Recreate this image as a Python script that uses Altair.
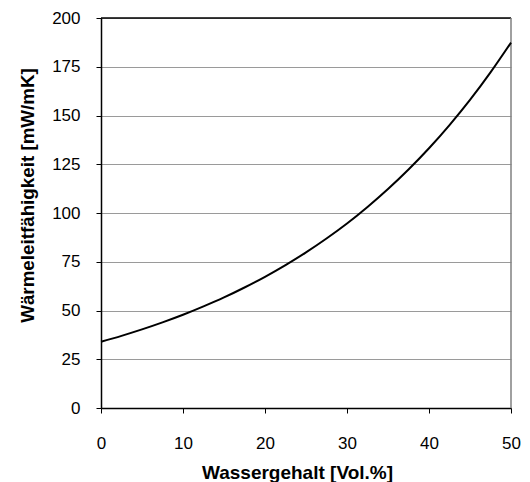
import altair as alt
import pandas as pd

# Values
wasser = [0, 2.5, 5, 7.5, 10, 12.5, 15, 17.5, 20, 22.5, 25, 27.5, 30, 32.5, 35, 37.5, 40, 42.5, 45, 47.5, 50]
waerme = [34, 37, 40.3, 43.9, 47.8, 52.1, 56.7, 61.8, 67.3, 73.3, 79.8, 86.9, 94.6, 103.1, 112.3, 122.3, 133.2, 145.1, 158, 172.1, 187.4]
x_ticks = [0, 10, 20, 30, 40, 50]
y_ticks = [0, 25, 50, 75, 100, 125, 150, 175, 200]
x_title = "Wassergehalt [Vol.%]"
y_title = "Wärmeleitfähigkeit [mW/mK]"

df = pd.DataFrame({"x": wasser, "y": waerme})
FONT = "Liberation Sans"

x_scale = alt.Scale(domain=[0, 50], nice=False, zero=False)
y_scale = alt.Scale(domain=[0, 200], nice=False)

x_axis = alt.Axis(
    title=x_title, values=x_ticks, grid=False,
    domainColor="black", domainWidth=1.5, tickColor="black", tickWidth=1, tickSize=5,
    labelFont=FONT, labelFontSize=17, labelColor="black", labelBaseline="alphabetic",
    labelPadding=35, labelFlush=False,
    titleFont=FONT, titleFontSize=19, titleFontWeight="bold", titleColor="black",
    titleBaseline="alphabetic", titleX=196, titleY=70, titleAlign="center",
)
y_axis = alt.Axis(
    title=y_title, values=y_ticks, grid=True, gridColor="#9a9a9a", gridWidth=1,
    domainColor="black", domainWidth=1.5, tickColor="black", tickWidth=1, tickSize=5,
    labelFont=FONT, labelFontSize=17, labelColor="black", labelPadding=16, labelFlush=False,
    titleFont=FONT, titleFontSize=18.8, titleFontWeight="bold", titleColor="black",
    titleX=-68, titleY=177, titleAngle=-90, titleAlign="center", titleBaseline="alphabetic",
)

line = alt.Chart(df).mark_line(color="black", strokeWidth=2, interpolate="monotone").encode(
    x=alt.X("x:Q", scale=x_scale, axis=x_axis),
    y=alt.Y("y:Q", scale=y_scale, axis=y_axis),
)

top_rule = alt.Chart(pd.DataFrame({"y": [200]})).mark_rule(color="black", strokeWidth=1.5).encode(
    y=alt.Y("y:Q", scale=y_scale)
)
right_rule = alt.Chart(pd.DataFrame({"x": [50]})).mark_rule(color="#808080", strokeWidth=1.5).encode(
    x=alt.X("x:Q", scale=x_scale)
)

chart = alt.layer(top_rule, right_rule, line).properties(
    width=410, height=390,
    autosize=alt.AutoSizeParams(type="none"),
    padding={"left": 93, "top": 10, "right": 11, "bottom": 74},
    background="white",
).configure_view(stroke=None)

chart.save("out.html", embed_options={"renderer": "svg", "actions": False})
